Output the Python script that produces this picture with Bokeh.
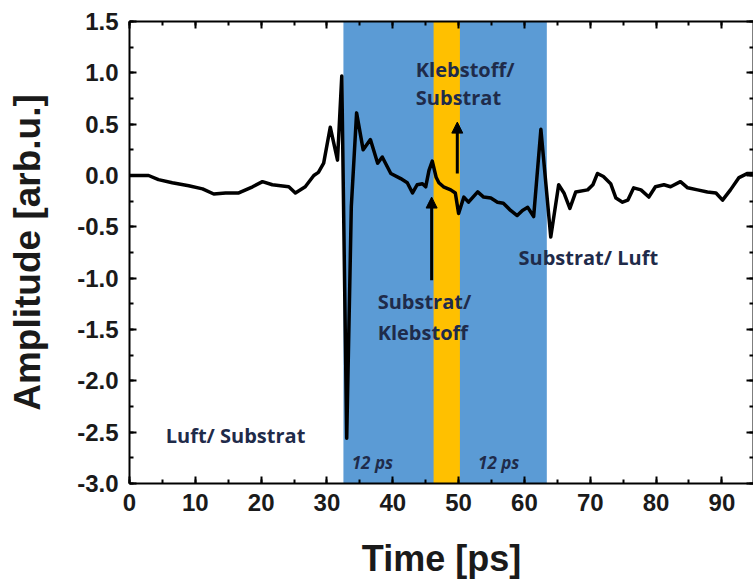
from bokeh.plotting import figure
from bokeh.models import (LinearAxis, SingleIntervalTicker, BoxAnnotation, Arrow,
                          NormalHead, Range1d, PrintfTickFormatter,
                          CustomLabelingPolicy)
from bokeh.core.properties import value
from bokeh.embed import file_html
from bokeh.resources import INLINE

# THz time-domain signal: time in ps, amplitude in arbitrary units
time_ps = [0.0, 2.9, 4.4, 6.5, 9.0, 11.1, 12.8, 14.6, 16.6, 18.7, 20.2, 21.7, 24.2,
           25.2, 26.7, 28.0, 28.7, 29.5, 30.5, 31.6, 32.25, 33.0, 33.7, 34.5, 35.5,
           36.6, 37.7, 38.4, 39.7, 41.2, 42.2, 43.0, 43.7, 44.5, 45.0, 45.5, 46.0,
           46.6, 47.0, 47.7, 48.8, 49.5, 50.0, 50.8, 51.5, 52.9, 53.8, 54.9, 55.9,
           56.8, 57.9, 58.9, 59.7, 60.5, 61.4, 62.5, 64.0, 65.2, 66.0, 66.9, 67.8,
           69.6, 70.4, 71.1, 72.0, 73.1, 73.9, 74.9, 75.7, 76.6, 77.7, 78.9, 79.9,
           81.2, 82.2, 83.7, 84.8, 86.3, 87.8, 89.1, 90.1, 91.3, 92.6, 93.9, 95.0]
amplitude = [0.0, 0.0, -0.04, -0.07, -0.10, -0.13, -0.18, -0.17, -0.17, -0.11, -0.06,
             -0.09, -0.11, -0.17, -0.11, 0.0, 0.03, 0.12, 0.47, 0.15, 0.97, -2.56,
             -0.3, 0.61, 0.25, 0.35, 0.12, 0.18, 0.02, -0.03, -0.07, -0.17, -0.09,
             -0.08, -0.11, 0.05, 0.14, -0.02, -0.07, -0.11, -0.14, -0.17, -0.37,
             -0.21, -0.26, -0.16, -0.21, -0.22, -0.26, -0.27, -0.34, -0.39, -0.34,
             -0.31, -0.40, 0.45, -0.60, -0.09, -0.17, -0.32, -0.16, -0.14, -0.09,
             0.02, -0.01, -0.08, -0.22, -0.26, -0.24, -0.12, -0.14, -0.21, -0.11,
             -0.09, -0.11, -0.06, -0.12, -0.14, -0.16, -0.17, -0.24, -0.14, -0.02,
             0.02, 0.02]

# substrate and adhesive time windows (ps)
substrate_window = (32.5, 63.4)
adhesive_window = (46.2, 50.2)

# interface labels: text, x, y
interface_labels = [
    ("Luft/ Substrat", 5.5, -2.53),
    ("Klebstoff/", 43.5, 1.03),
    ("Substrat", 43.5, 0.76),
    ("Substrat/", 37.7, -1.23),
    ("Klebstoff", 37.7, -1.53),
    ("Substrat/ Luft", 59.1, -0.80),
]
duration_labels = [("12 ps", 36.9, -2.80), ("12 ps", 56.1, -2.80)]

# arrows pointing at interface echoes: x, y_start, y_end
echo_arrows = [(45.9, -1.02, -0.21), (49.8, 0.02, 0.52)]

NAVY = "#1f2b4a"
BLUE = "#5b9bd5"
GOLD = "#ffc000"
INK = "#1a1a1a"

p = figure(width=753, height=581, output_backend="svg", toolbar_location=None,
           x_range=Range1d(0, 94.8), y_range=Range1d(-3.0, 1.5),
           min_border_left=129, min_border_right=0, min_border_top=21,
           min_border_bottom=97, x_axis_location=None, y_axis_location=None)
p.outline_line_color = None
p.xgrid.visible = False
p.ygrid.visible = False
p.background_fill_color = "white"
p.border_fill_color = "white"

p.add_layout(BoxAnnotation(left=substrate_window[0], right=substrate_window[1],
                           fill_color=BLUE, fill_alpha=1.0, line_color=None,
                           level="underlay"))
p.add_layout(BoxAnnotation(left=adhesive_window[0], right=adhesive_window[1],
                           fill_color=GOLD, fill_alpha=1.0, line_color=None,
                           level="underlay"))

p.line(time_ps, amplitude, line_color="black", line_width=3.5, line_join="round")

for x, y0, y1 in echo_arrows:
    p.add_layout(Arrow(x_start=x, y_start=y0, x_end=x, y_end=y1, line_width=3,
                       line_color="black",
                       end=NormalHead(size=11, fill_color="black", line_color="black")))

p.text(x=[l[1] for l in interface_labels], y=[l[2] for l in interface_labels],
       text=[l[0] for l in interface_labels], text_font=value("Open Sans"),
       text_font_style="bold", text_font_size="20px", text_color=NAVY,
       text_align="left", text_baseline="middle")
p.text(x=[l[1] for l in duration_labels], y=[l[2] for l in duration_labels],
       text=[l[0] for l in duration_labels], text_font=value("Open Sans"),
       text_font_style="bold italic", text_font_size="17px", text_color=NAVY,
       text_align="center", text_baseline="middle")

# frame ticks on top and right carry no labels
no_labels = CustomLabelingPolicy(code="return []")


def make_axis(interval, show_labels):
    ax = LinearAxis(ticker=SingleIntervalTicker(interval=interval, num_minor_ticks=2))
    ax.axis_line_width = 2
    ax.axis_line_color = "black"
    ax.major_tick_in = 7
    ax.major_tick_out = 0
    ax.minor_tick_in = 4
    ax.minor_tick_out = 0
    ax.major_tick_line_width = 2
    ax.minor_tick_line_width = 2
    if show_labels:
        ax.major_label_text_font = "Liberation Sans"
        ax.major_label_text_font_style = "bold"
        ax.major_label_text_font_size = "24px"
        ax.major_label_text_color = INK
        ax.axis_label_text_font = "Liberation Sans"
        ax.axis_label_text_font_style = "bold"
        ax.axis_label_text_font_size = "36px"
        ax.axis_label_text_color = INK
    else:
        ax.major_label_text_font_size = "0px"
        ax.major_label_standoff = 0
        ax.major_label_policy = no_labels
    return ax


x_bottom = make_axis(10, True)
x_bottom.axis_label = "Time [ps]"
x_bottom.major_label_standoff = 10
x_bottom.axis_label_standoff = 24
y_left = make_axis(0.5, True)
y_left.axis_label = "Amplitude [arb.u.]"
y_left.axis_label_text_font_size = "37px"
y_left.formatter = PrintfTickFormatter(format="%.1f")
y_left.major_label_standoff = 11
y_left.axis_label_standoff = 26
x_top = make_axis(10, False)
y_right = make_axis(0.5, False)

p.add_layout(x_bottom, "below")
p.add_layout(y_left, "left")
p.add_layout(x_top, "above")
p.add_layout(y_right, "right")

open("out.html", "w").write(file_html(p, INLINE))
